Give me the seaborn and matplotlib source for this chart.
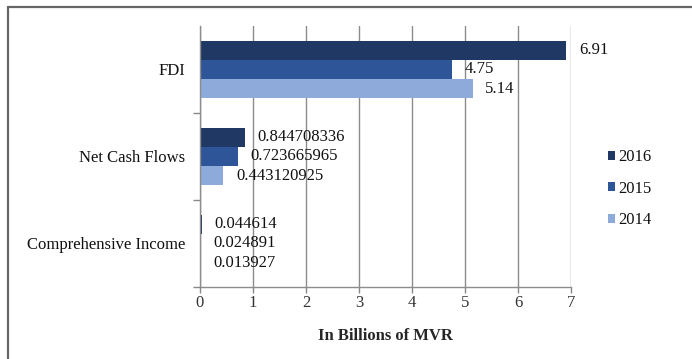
import matplotlib
matplotlib.use("Agg")
import matplotlib.pyplot as plt
from matplotlib.lines import Line2D
import seaborn as sns
import pandas as pd

categories = ["FDI", "Net Cash Flows", "Comprehensive Income"]
years = ["2016", "2015", "2014"]
values_2016 = [6.91, 0.844708336, 0.044614]
values_2015 = [4.75, 0.723665965, 0.024891]
values_2014 = [5.14, 0.443120925, 0.013927]
x_ticks = [0, 1, 2, 3, 4, 5, 6, 7]

colors = {"2016": "#1f3864", "2015": "#2e5597", "2014": "#8eaadb"}

series = {"2016": values_2016, "2015": values_2015, "2014": values_2014}
rows = []
for year in years:
    for cat, v in zip(categories, series[year]):
        rows.append({"Category": cat, "Year": year, "Value": v})
df = pd.DataFrame(rows)

sns.set_theme(style="white")
plt.rcParams["font.family"] = ["Liberation Serif", "DejaVu Serif"]

fig = plt.figure(figsize=(6.92, 3.59), dpi=100)
ax = fig.add_axes([0.289, 0.2006, 0.5365, 0.7270])

sns.barplot(data=df, y="Category", x="Value", hue="Year", order=categories,
            hue_order=years, palette=colors, orient="h", width=0.66,
            saturation=1, linewidth=0, ax=ax, legend=True)

for year, container in zip(years, ax.containers):
    ax.bar_label(container, labels=[str(v) for v in series[year]],
                 padding=9, fontsize=12, color="#111111")

ax.set_xlim(0, 7)
ax.set_ylim(2.5, -0.5)
ax.set_xticks(x_ticks)
ax.set_xticklabels([str(t) for t in x_ticks], fontsize=12, color="#333333")
ax.set_yticks(range(len(categories)))
ax.set_yticklabels(categories, fontsize=12, color="#111111")
ax.set_yticks([0.5, 1.5, 2.5], minor=True)
ax.tick_params(axis="y", which="major", length=0, pad=10.5)
ax.tick_params(axis="y", which="minor", length=5, width=1, color="#888888", left=True)
ax.tick_params(axis="x", which="major", length=4, width=1, color="#888888",
               bottom=True, pad=2)

ax.set_xlabel("In Billions of MVR", fontsize=12, fontweight="bold", labelpad=12)
ax.set_ylabel("")

ax.grid(axis="x", color="#8c8c8c", linewidth=1)
ax.set_axisbelow(True)
for side in ("top", "right"):
    ax.spines[side].set_visible(False)
for side in ("left", "bottom"):
    ax.spines[side].set_color("#8c8c8c")
    ax.spines[side].set_linewidth(1)

leg = ax.legend(loc="center left", bbox_to_anchor=(1.08, 0.377),
                borderaxespad=0, frameon=False, fontsize=12,
                handlelength=0.45, handleheight=0.45, handletextpad=0.2,
                labelspacing=0.93)
for t in leg.get_texts():
    t.set_color("#111111")

frame_color = "#666666"
fx = 8 / 692
fy = 1 - 7 / 359
fig.add_artist(Line2D([fx, fx], [0, fy], color=frame_color, linewidth=1.6,
                      transform=fig.transFigure))
fig.add_artist(Line2D([fx, 1], [fy, fy], color=frame_color, linewidth=1.6,
                      transform=fig.transFigure))

fig.savefig("out.png", dpi=100)
